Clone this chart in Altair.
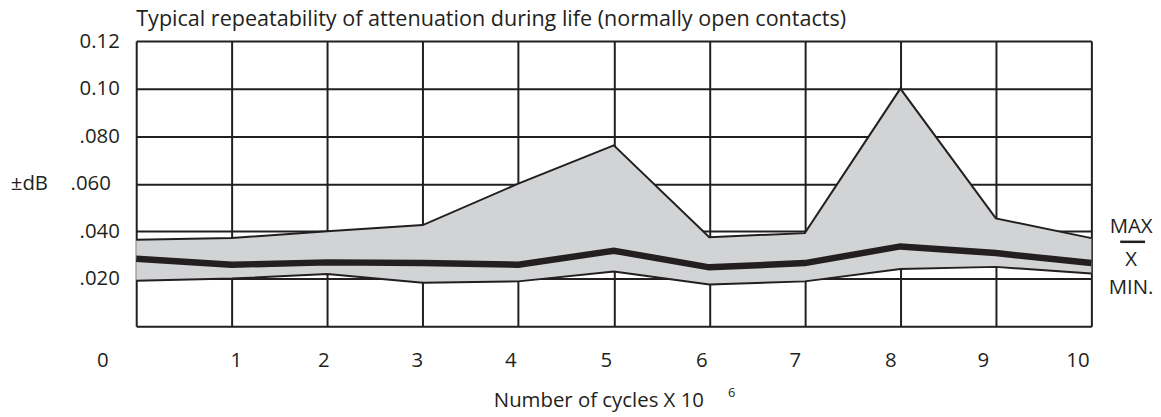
import altair as alt
import pandas as pd

# ---- data ----
cycles = [0, 1, 2, 3, 4, 5, 6, 7, 8, 9, 10]
max_db = [0.0364, 0.0371, 0.0400, 0.0426, 0.0600, 0.0761, 0.0375, 0.0392, 0.1000, 0.0454, 0.0371]
mean_db = [0.0284, 0.0259, 0.0269, 0.0266, 0.0259, 0.0318, 0.0248, 0.0266, 0.0336, 0.0308, 0.0266]
min_db = [0.0192, 0.0201, 0.0220, 0.0183, 0.0189, 0.0231, 0.0176, 0.0189, 0.0241, 0.0250, 0.0222]

x_ticks = [0, 1, 2, 3, 4, 5, 6, 7, 8, 9, 10]
y_ticks = [0, 0.02, 0.04, 0.06, 0.08, 0.10, 0.12]
y_tick_labels = ["", ".020", ".040", ".060", ".080", "0.10", "0.12"]

title_text = "Typical repeatability of attenuation during life (normally open contacts)"
x_title = "Number of cycles X 10"
x_title_sup = "6"
y_title = "±dB"
key_labels = ["MAX", "X", "MIN."]

# ---- styles ----
INK = "#231f20"
FILL = "#d1d3d4"
FONT = "Open Sans"
FS = 20.5
x_label_offsets = [-34, 4, -4, -6, -8, -8, -8, -10, -10, -13, -14]

df = pd.DataFrame({"cycles": cycles, "max": max_db, "mean": mean_db, "min": min_db})

y_label_expr = "[" + ",".join("'%s'" % s for s in y_tick_labels) + "][round(datum.value / 0.02)]"
x_off_expr = "[" + ",".join(str(v) for v in x_label_offsets) + "][round(datum.value)]"

xs = alt.Scale(domain=[0, 10], nice=False, zero=False)
ys = alt.Scale(domain=[0, 0.12], nice=False)

x_axis = alt.Axis(
    values=x_ticks, grid=True, ticks=False, domain=False, format="d",
    labelFlush=False, labelOverlap=False,
    labelPadding=24, labelFontSize=FS, labelFont=FONT, labelColor=INK,
    labelOffset={"expr": x_off_expr},
    title=x_title, titleFont=FONT, titleFontSize=FS, titleFontWeight="normal",
    titleColor=INK, titleX=465, titleY=81, titleAlign="center", titleBaseline="alphabetic",
    gridColor=INK, gridWidth=2, gridOpacity=1,
)
y_axis = alt.Axis(
    values=y_ticks, grid=True, ticks=False, domain=False,
    labelExpr=y_label_expr, labelFontSize=FS, labelFont=FONT,
    labelFlush=False, labelOverlap=False,
    labelPadding={"expr": "abs(datum.value - 0.06) < 0.001 ? 26 : 17"},
    labelColor=INK, labelBaseline="middle",
    title=y_title, titleAngle=0, titleX=-108, titleY=143, titleAlign="center",
    titleBaseline="middle", titleFont=FONT, titleFontSize=FS, titleFontWeight="normal",
    titleColor=INK,
    gridColor=INK, gridWidth=2, gridOpacity=1,
)

base = alt.Chart(df)

area = base.mark_area(color=FILL, opacity=1).encode(
    x=alt.X("cycles:Q", scale=xs, axis=x_axis),
    y=alt.Y("max:Q", scale=ys, axis=y_axis),
    y2="min:Q",
)
max_line = base.mark_line(color=INK, strokeWidth=2).encode(x="cycles:Q", y="max:Q")
min_line = base.mark_line(color=INK, strokeWidth=2).encode(x="cycles:Q", y="min:Q")
mean_line = base.mark_line(color=INK, strokeWidth=6.5).encode(x="cycles:Q", y="mean:Q")

sup = alt.Chart(pd.DataFrame({"t": [x_title_sup]})).mark_text(
    font=FONT, fontSize=13, color=INK, baseline="middle", align="center"
).encode(text="t:N", x=alt.value(599), y=alt.value(354))

key_df = pd.DataFrame({"t": key_labels, "pos": [187, 220, 249]})
key = alt.Chart(key_df).mark_text(
    font=FONT, fontSize=FS, color=INK, baseline="middle", align="center"
).encode(text="t:N", x=alt.value(1001), y=alt.Y("pos:Q", scale=None))
key_bar = alt.Chart(pd.DataFrame({"a": [0]})).mark_rule(color=INK, strokeWidth=2.5).encode(
    x=alt.value(990), x2=alt.value(1015), y=alt.value(202)
)

chart = alt.layer(area, max_line, min_line, mean_line, sup, key, key_bar).properties(
    width=961, height=287,
    title=alt.TitleParams(
        title_text, anchor="start", frame="group", fontSize=21.7, font=FONT,
        fontWeight="normal", color=INK, offset=0,
    ),
    autosize=alt.AutoSizeParams(type="none"),
    padding={"left": 129, "top": 32, "right": 62, "bottom": 90},
).configure_view(stroke=INK, strokeWidth=2).configure(background="white")

chart.save("out.html", embed_options={"renderer": "svg", "actions": False})
